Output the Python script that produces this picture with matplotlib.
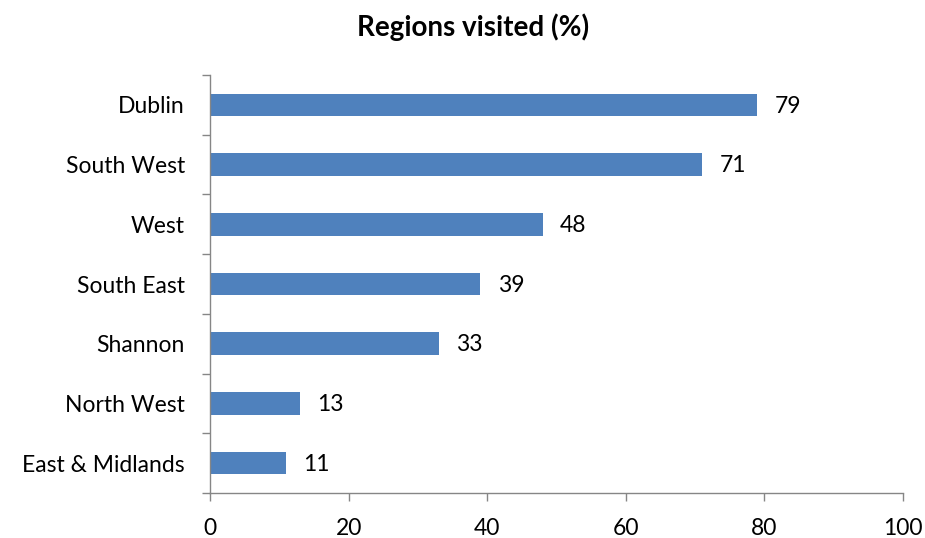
import matplotlib
matplotlib.use("Agg")
import matplotlib.pyplot as plt
import numpy as np

categories = ["Dublin", "South West", "West", "South East", "Shannon", "North West", "East & Midlands"]
values = [79, 71, 48, 39, 33, 13, 11]
xticks = [0, 20, 40, 60, 80, 100]

plt.rcParams['font.family'] = ['Lato', 'DejaVu Sans']

fig = plt.figure(figsize=(9.25, 5.38), dpi=100)
ax = fig.add_axes([210/925, 1-493/538, 693/925, 418/538])

n = len(categories)
ypos = np.arange(n)[::-1]
ax.barh(ypos, values, height=0.38, color="#4F81BD")
for y, v in zip(ypos, values):
    ax.text(v + 2.5, y - 0.02, str(v), va="center", ha="left", fontsize=16.5, color="black")

ax.set_xlim(0, 100)
ax.set_ylim(-0.5, n - 0.5)
ax.set_xticks(xticks)
ax.set_xticklabels([str(t) for t in xticks], fontsize=16.5)
ax.set_yticks(ypos)
ax.set_yticklabels(categories, fontsize=16.5)
ax.set_yticks(np.arange(-0.5, n, 1.0), minor=True)
ax.tick_params(axis='y', which='major', length=0, pad=18)
ax.tick_params(axis='y', which='minor', length=6, color="#868686", width=1)
ax.tick_params(axis='x', which='major', length=6, color="#868686", width=1, pad=12)

for s in ["top", "right"]:
    ax.spines[s].set_visible(False)
for s in ["left", "bottom"]:
    ax.spines[s].set_color("#868686")
    ax.spines[s].set_linewidth(1)

fig.text(473/925, 1-27/538, "Regions visited (%)", ha="center", va="center", fontsize=20, fontweight="bold")

fig.savefig("out.png", dpi=100)
